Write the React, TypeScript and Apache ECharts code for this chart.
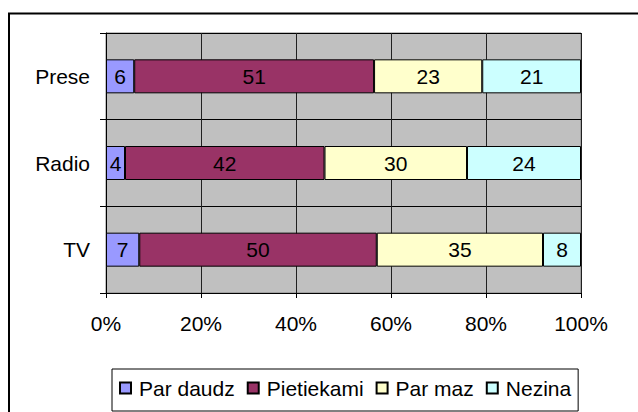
import React, { useEffect, useRef } from "react";
import * as echarts from "echarts";

const categories = ["TV", "Radio", "Prese"];
const seriesNames = ["Par daudz", "Pietiekami", "Par maz", "Nezina"];
const parDaudz = [7, 4, 6];
const pietiekami = [50, 42, 51];
const parMaz = [35, 30, 23];
const nezina = [8, 24, 21];
const xTicks = [0, 20, 40, 60, 80, 100];
const colors = ["#9999FF", "#993366", "#FFFFCC", "#CCFFFF"];

const FONT = "'Liberation Sans', Arial, sans-serif";

export default function App() {
  const ref = useRef<HTMLDivElement>(null);
  useEffect(() => {
    document.body.style.margin = "0";
    if (!ref.current) return;
    const chart = echarts.init(ref.current, undefined, { renderer: "svg" });
    const raw = [parDaudz, pietiekami, parMaz, nezina];
    const totals = categories.map((_, i) => raw.reduce((s, arr) => s + arr[i], 0));
    const series = raw.map((arr, k) => ({
      name: seriesNames[k],
      type: "bar" as const,
      stack: "total",
      barWidth: 34,
      data: arr.map((v, i) => ({ value: (v / totals[i]) * 100, raw: v })),
      itemStyle: { color: colors[k], borderColor: "#000", borderWidth: 1 },
      label: {
        show: true,
        position: "inside" as const,
        color: "#000",
        fontFamily: FONT,
        fontSize: 21,
        formatter: (p: any) => String(p.data.raw),
      },
    }));
    chart.setOption({
      animation: false,
      textStyle: { fontFamily: FONT },
      grid: {
        left: 106,
        right: 57,
        top: 33,
        bottom: 119,
        show: true,
        backgroundColor: "#C0C0C0",
        borderColor: "#808080",
        borderWidth: 1,
      },
      xAxis: {
        type: "value",
        min: 0,
        max: 100,
        interval: 20,
        data: xTicks,
        axisLine: { show: true, lineStyle: { color: "#000", width: 1 } },
        axisTick: { show: true, length: 5, lineStyle: { color: "#000" } },
        splitLine: { show: true, lineStyle: { color: "#202020", width: 1 } },
        axisLabel: {
          color: "#000",
          fontSize: 21,
          fontFamily: FONT,
          margin: 20,
          formatter: "{value}%",
        },
      },
      yAxis: {
        type: "category",
        data: categories,
        axisLine: { show: true, lineStyle: { color: "#000", width: 1 } },
        axisTick: { show: true, length: 6, lineStyle: { color: "#000" } },
        splitLine: { show: true, lineStyle: { color: "#000", width: 1 } },
        axisLabel: { color: "#000", fontSize: 21, fontFamily: FONT, margin: 16 },
      },
      legend: {
        left: 112,
        top: 369,
        orient: "horizontal",
        icon: "rect",
        itemWidth: 11,
        itemHeight: 11,
        itemGap: 12,
        padding: [8, 7, 12, 7],
        borderColor: "#000",
        borderWidth: 1,
        backgroundColor: "#fff",
        data: seriesNames,
        textStyle: {
          color: "#000",
          fontSize: 21,
          fontFamily: FONT,
          lineHeight: 22,
          padding: [0, 0, 0, 3],
        },
      },
      graphic: [
        {
          type: "rect",
          shape: { x: 9, y: 13.5, width: 700, height: 500 },
          style: { fill: "none", stroke: "#000", lineWidth: 2 },
          silent: true,
        },
        {
          type: "line",
          shape: { x1: 106, y1: 33.5, x2: 581.5, y2: 33.5 },
          style: { stroke: "#808080", lineWidth: 1 },
          silent: true,
        },
        {
          type: "line",
          shape: { x1: 581.5, y1: 33.5, x2: 581.5, y2: 293 },
          style: { stroke: "#808080", lineWidth: 1 },
          silent: true,
        },
      ],
      series,
    });
    return () => chart.dispose();
  }, []);
  return <div ref={ref} style={{ width: 638, height: 412 }} />;
}
